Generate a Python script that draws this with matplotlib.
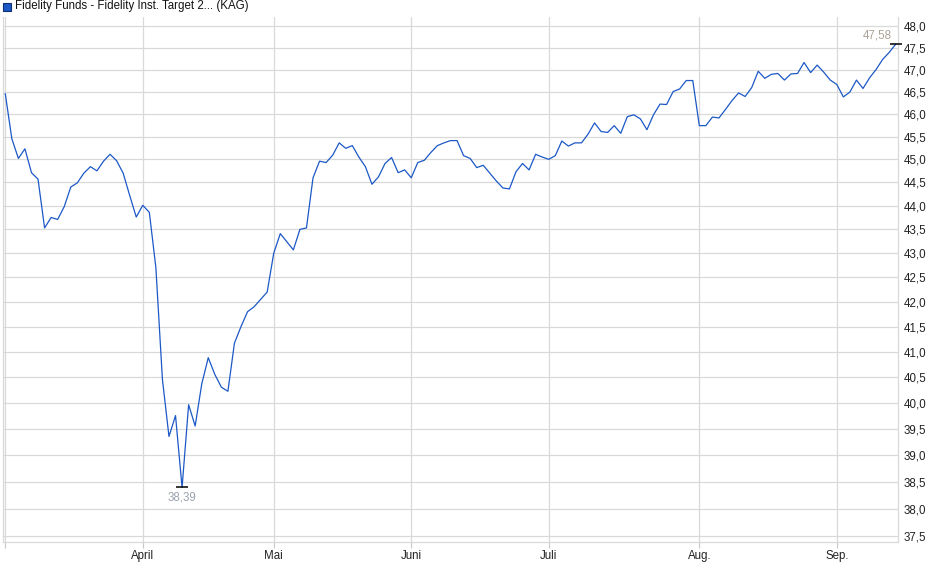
import matplotlib
matplotlib.use("Agg")
import matplotlib.pyplot as plt
from matplotlib.patches import Rectangle
from matplotlib.ticker import FixedLocator, FixedFormatter, NullLocator

# daily closes (trading days, Mar - Sep)
prices = [
    46.45, 45.45, 45.02, 45.23, 44.71, 44.57, 43.53, 43.75, 43.71, 43.98,
    44.40, 44.49, 44.70, 44.84, 44.75, 44.96, 45.11, 44.97, 44.70, 44.22,
    43.76, 44.01, 43.86, 42.70, 40.45, 39.35, 39.75, 38.39, 39.96, 39.55,
    40.36, 40.88, 40.55, 40.30, 40.22, 41.17, 41.50, 41.80, 41.90, 42.05,
    42.20, 43.00, 43.41, 43.24, 43.07, 43.50, 43.53, 44.60, 44.96, 44.93,
    45.09, 45.36, 45.24, 45.30, 45.05, 44.84, 44.46, 44.62, 44.91, 45.04,
    44.71, 44.77, 44.60, 44.93, 44.98, 45.15, 45.30, 45.36, 45.41, 45.41,
    45.08, 45.02, 44.82, 44.87, 44.70, 44.53, 44.38, 44.36, 44.73, 44.91,
    44.77, 45.11, 45.05, 45.00, 45.08, 45.40, 45.29, 45.36, 45.36, 45.55,
    45.80, 45.61, 45.59, 45.74, 45.57, 45.94, 45.98, 45.89, 45.65, 45.98,
    46.22, 46.21, 46.50, 46.56, 46.75, 46.75, 45.74, 45.74, 45.93, 45.91,
    46.10, 46.30, 46.47, 46.39, 46.59, 46.96, 46.80, 46.89, 46.91, 46.76,
    46.90, 46.91, 47.16, 46.93, 47.10, 46.94, 46.76, 46.66, 46.38, 46.49,
    46.76, 46.57, 46.81, 47.00, 47.23, 47.39, 47.58,
]
month_pos = [0, 21, 41, 62, 83, 106, 127]
month_labels = ["", "April", "Mai", "Juni", "Juli", "Aug.", "Sep."]
y_ticks = [37.5 + 0.5 * k for k in range(22)]
y_labels = [f"{v:.1f}".replace(".", ",") for v in y_ticks]
title = "Fidelity Funds - Fidelity Inst. Target 2... (KAG)"

line_col = "#1c58c6"
grid_col = "#d9d9d9"

plt.rcParams["font.family"] = ["Liberation Sans", "DejaVu Sans"]

fig = plt.figure(figsize=(9.4, 5.79), dpi=100)
ax = fig.add_axes([3 / 940, 1 - 542 / 579, (897.7 - 3) / 940, (542 - 17) / 579])

x = list(range(len(prices)))
ax.plot(x, prices, color=line_col, lw=0.9, zorder=3)

ax.set_yscale("log")
ax.set_ylim(37.39, 48.21)
ax.set_xlim(-0.35, len(prices) - 1 + 0.3)

ax.yaxis.set_major_locator(FixedLocator(y_ticks))
ax.yaxis.set_major_formatter(FixedFormatter(y_labels))
ax.yaxis.set_minor_locator(NullLocator())
ax.yaxis.tick_right()
ax.tick_params(axis="y", length=0, pad=4, labelsize=8.3, colors="#222222")

ax.xaxis.set_major_locator(FixedLocator(month_pos))
ax.xaxis.set_major_formatter(FixedFormatter(month_labels))
ax.tick_params(axis="x", length=4, width=0.8, color="#c8c8c8", pad=2,
               labelsize=8.3, labelcolor="#222222")

ax.grid(True, color=grid_col, lw=0.9)
ax.set_axisbelow(True)
for s in ["left", "right", "bottom"]:
    ax.spines[s].set_color(grid_col)
    ax.spines[s].set_linewidth(0.9)
ax.spines["top"].set_visible(False)

# min / max markers
i_min = prices.index(min(prices))
i_max = len(prices) - 1
ax.plot([i_min], [prices[i_min]], marker="_", ms=8, mew=1.1, color="black", zorder=4)
ax.annotate(f"{prices[i_min]:.2f}".replace(".", ","), (i_min, prices[i_min]),
            xytext=(0, -7.5), textcoords="offset points", ha="center", va="center",
            fontsize=8.3, color="#9aa3ad")
ax.plot([i_max], [prices[i_max]], marker="_", ms=8, mew=1.1, color="black",
        zorder=4, clip_on=False)
ax.annotate(f"{prices[i_max]:.2f}".replace(".", ","), (i_max, prices[i_max]),
            xytext=(-3, 6.5), textcoords="offset points", ha="right", va="center",
            fontsize=8.3, color="#aaa296")

# header legend
fig.patches.append(Rectangle((3 / 940, 1 - 10.5 / 579), 8 / 940, 8 / 579,
                             transform=fig.transFigure, facecolor=line_col,
                             edgecolor="#0d2f73", lw=0.8))
fig.text(15 / 940, 1 - 6.5 / 579, title, ha="left", va="center",
         fontsize=8.3, color="#111111")

fig.savefig("out.png", dpi=100)
